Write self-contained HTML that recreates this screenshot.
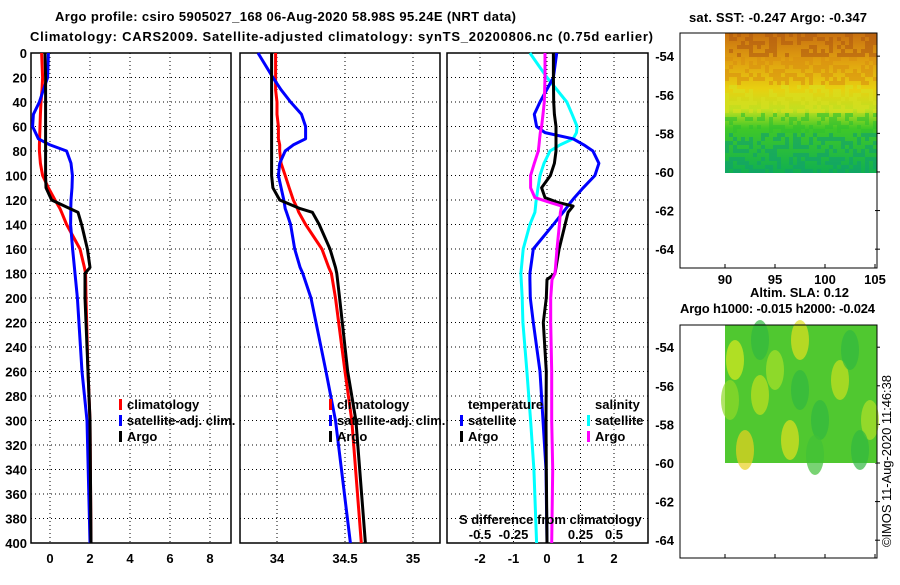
<!DOCTYPE html>
<html><head><meta charset="utf-8"><style>
body{margin:0;background:#fff;width:900px;height:580px;overflow:hidden}
svg text{font-family:"Liberation Sans",sans-serif;font-weight:bold;font-size:13px;fill:#000}
</style></head><body>
<svg id="c" width="900" height="580" xmlns="http://www.w3.org/2000/svg">
<defs>
<linearGradient id="sst" x1="0" y1="0" x2="0" y2="1">
<stop offset="0" stop-color="#c87010"/><stop offset="0.2" stop-color="#e0a010"/><stop offset="0.4" stop-color="#e8d010"/>
<stop offset="0.55" stop-color="#c0e020"/><stop offset="0.68" stop-color="#40c828"/><stop offset="1" stop-color="#10b050"/>
</linearGradient>
</defs>
<text x="55" y="21" textLength="461">Argo profile: csiro 5905027_168 06-Aug-2020 58.98S 95.24E (NRT data)</text>
<text x="30" y="41" textLength="623">Climatology: CARS2009. Satellite-adjusted climatology: synTS_20200806.nc (0.75d earlier)</text>
<g id="plots"></g>
<g>
<text x="689" y="22" textLength="178">sat. SST: -0.247 Argo: -0.347</text>
<rect x="725" y="33" width="152" height="140" fill="url(#sst)"/>
<g id="sstnoise"></g>
<rect x="680" y="33" width="197" height="235" fill="none" stroke="#000"/>
</g>
<g>
<text x="750" y="297">Altim. SLA: 0.12</text>
<text x="680" y="313" textLength="195">Argo h1000: -0.015 h2000: -0.024</text>
<rect x="725" y="325" width="152" height="138" fill="#50c830"/>
<g id="blobs"></g>
<rect x="680" y="325" width="197" height="233" fill="none" stroke="#000"/>
</g>
<text transform="translate(891,547) rotate(-90)" textLength="172" style="font-weight:normal;font-size:13px">©IMOS 11-Aug-2020 11:46:38</text>
</svg>
<script>
// ---- data ----
const depthT = [0,20,30,40,50,60,70,75,80,90,100,110,120,127,130,140,160,175,180,200,260,300,400];
const p1Clim = [-0.42,-0.37,-0.4,-0.45,-0.48,-0.5,-0.52,-0.53,-0.53,-0.48,-0.37,-0.08,0.25,0.5,0.58,0.83,1.5,1.72,1.78,1.8,1.9,2.0,2.05];
const p1Sat  = [-0.08,-0.12,-0.33,-0.53,-0.83,-0.87,-0.58,0,0.83,1.05,1.12,1.1,1.05,1.04,1.04,1.03,1.13,1.22,1.25,1.37,1.6,1.85,2.0];
const p1Argo = [-0.25,-0.22,-0.22,-0.22,-0.22,-0.22,-0.22,-0.22,-0.22,-0.22,-0.22,-0.2,0.08,1.0,1.4,1.58,1.87,2.0,1.75,1.75,1.9,2.0,2.05];
const p2Clim = [33.99,33.99,33.99,34.0,34.0,34.01,34.01,34.02,34.02,34.03,34.06,34.09,34.12,34.15,34.16,34.21,34.33,34.38,34.40,34.43,34.5,34.55,34.62];
const p2Sat  = [33.86,33.97,34.03,34.1,34.18,34.21,34.21,34.12,34.06,34.02,34.01,34.03,34.05,34.06,34.07,34.1,34.13,34.17,34.19,34.25,34.36,34.43,34.54];
const p2Argo = [33.96,33.96,33.96,33.96,33.96,33.96,33.96,33.96,33.96,33.96,33.96,33.97,34.02,34.17,34.26,34.31,34.39,34.43,34.44,34.46,34.52,34.58,34.65];
const depthD = [0,20,40,50,60,65,70,75,80,90,100,110,118,122,125,130,140,160,180,185,200,220,260,300,340,400];
const dTSat  = [0.29,0.19,-0.21,-0.38,-0.31,-0.06,0.78,1.1,1.37,1.55,1.43,1.08,0.82,0.7,0.62,0.48,0.19,-0.41,-0.51,-0.51,-0.5,-0.41,-0.21,-0.12,-0.03,0];
const dTArgo = [0.19,0.19,0.2,0.22,0.27,0.27,0.27,0.27,0.27,0.22,0.1,-0.16,-0.06,0.33,0.78,0.63,0.54,0.36,0.24,0,-0.02,-0.11,-0.02,-0.03,-0.02,0];
const dSSat  = [-0.51,0,0.59,0.75,0.9,0.88,0.78,0.39,0.09,-0.09,-0.21,-0.27,-0.31,-0.33,-0.34,-0.36,-0.51,-0.71,-0.78,-0.77,-0.74,-0.72,-0.6,-0.49,-0.39,-0.31];
const dSArgo = [-0.06,-0.06,-0.08,-0.12,-0.16,-0.2,-0.22,-0.24,-0.26,-0.38,-0.49,-0.49,-0.36,0.09,0.44,0.4,0.37,0.3,0.24,0.15,0.11,0.11,0.14,0.14,0.17,0.14];
const depthTicks = [0,20,40,60,80,100,120,140,160,180,200,220,240,260,280,300,320,340,360,380,400];
const p1Ticks = [0,2,4,6,8];
const p2Ticks = [34,34.5,35];
const p3Ticks = [-2,-1,0,1,2];
const p3STicks = ['-0.5','-0.25','','0.25','0.5'];
// ---- geometry ----
const NS='http://www.w3.org/2000/svg';
const g=document.getElementById('plots');
const yD=d=>53+d*1.225;
function el(t,a,p){const e=document.createElementNS(NS,t);for(const k in a)e.setAttribute(k,a[k]);(p||g).appendChild(e);return e;}
const panels=[
 {name:'temperature-panel',x0:31,x1:231,sx:v=>50+v*20,ticks:p1Ticks,lbl:v=>String(v)},
 {name:'salinity-panel',x0:240,x1:440,sx:v=>277+(v-34)*136,ticks:p2Ticks,lbl:v=>String(v)},
 {name:'difference-panel',x0:447,x1:648,sx:v=>547+v*33.5,ticks:p3Ticks,lbl:v=>String(v)}
];
panels.forEach((p,i)=>{
 const pg=el('g',{});
 
 
 depthTicks.forEach(d=>{
  if(d>0&&d<400){const l=el('line',{x1:p.x0,x2:p.x1,y1:yD(d),y2:yD(d),stroke:'#000','stroke-dasharray':'1,3'},pg);
  
  }
  if(i===0){const t=el('text',{x:27,y:yD(d)+5,'text-anchor':'end'},pg);t.textContent=d;
  
  }
 });
 p.ticks.forEach(v=>{
  const x=p.sx(v);
  const l=el('line',{x1:x,x2:x,y1:53,y2:543,stroke:'#000','stroke-dasharray':'1,3'},pg);
  
  
  const t=el('text',{x:x,y:563,'text-anchor':'middle'},pg);t.textContent=p.lbl(v);
  
  
 });
 const fr=el('rect',{x:p.x0,y:53,width:p.x1-p.x0,height:490,fill:'none',stroke:'#000','stroke-width':1.5},pg);
 
 
});
function line(depths,vals,sx,col,name){
 const pts=depths.map((d,i)=>sx(vals[i]).toFixed(1)+','+yD(d).toFixed(1)).join(' ');
 const l=el('polyline',{points:pts,fill:'none',stroke:col,'stroke-width':3,'stroke-linejoin':'round'});
 
 
}
const P=panels;
line(depthT,p1Clim,P[0].sx,'#f00','temp-climatology-line');
line(depthT,p1Sat,P[0].sx,'#00f','temp-satellite-line');
line(depthT,p1Argo,P[0].sx,'#000','temp-argo-line');
line(depthT,p2Clim,P[1].sx,'#f00','sal-climatology-line');
line(depthT,p2Sat,P[1].sx,'#00f','sal-satellite-line');
line(depthT,p2Argo,P[1].sx,'#000','sal-argo-line');
line(depthD,dSSat,P[2].sx,'#0ff','sdiff-satellite-line');
line(depthD,dTSat,P[2].sx,'#00f','tdiff-satellite-line');
line(depthD,dTArgo,P[2].sx,'#000','tdiff-argo-line');
line(depthD,dSArgo,P[2].sx,'#f0f','sdiff-argo-line');
// legends
function leg(x,y,col,txt,name){
 if(col){const r=el('rect',{x:x,y:y-10,width:3,height:11,fill:col});
 
 }
 const t=el('text',{x:x+(col?8:0),y:y});t.textContent=txt;
 
 
}
[[119,'p1'],[329,'p2']].forEach(([x,n])=>{
 leg(x,409,'#f00','climatology',n+'-legend-climatology');
 leg(x,425,'#00f','satellite-adj. clim.',n+'-legend-satellite');
 leg(x,441,'#000','Argo',n+'-legend-argo');
});
leg(468,409,null,'temperature','legend-temperature-title');
leg(460,425,'#00f','satellite','legend-temp-satellite');
leg(460,441,'#000','Argo','legend-temp-argo');
leg(595,409,null,'salinity','legend-salinity-title');
leg(587,425,'#0ff','satellite','legend-sal-satellite');
leg(587,441,'#f0f','Argo','legend-sal-argo');
leg(459,524,null,'S difference from climatology','s-axis-title');
p3Ticks.forEach((v,i)=>{if(!p3STicks[i])return;const t=el('text',{x:P[2].sx(v),y:539,'text-anchor':'middle'});t.textContent=p3STicks[i];
 
 });
// map axes
function mapAxes(lat0,yTop){
 for(let k=0;k<6;k++){const la=-54-2*k;const y=yTop+(la-lat0)*-19.3;
  const t=el('text',{x:674,y:y+5,'text-anchor':'end'});t.textContent=la;
  
  
  el('line',{x1:875,x2:880,y1:y,y2:y,stroke:'#000'});}
}
mapAxes(-52.8,33);
mapAxes(-52.85,325);
[90,95,100,105].forEach(lo=>{const x=725+(lo-90)*10;
 const t=el('text',{x:x,y:284,'text-anchor':'middle'});t.textContent=lo;
 
 
 el('line',{x1:x,x2:x,y1:268,y2:264,stroke:'#000'});
 el('line',{x1:x,x2:x,y1:558,y2:554,stroke:'#000'});});
// decorative map texture (deterministic hash)
const h=(i,j)=>{const s=Math.sin(i*12.9898+j*78.233)*43758.5453;return s-Math.floor(s);};
const sn=document.getElementById('sstnoise');
for(let i=0;i<38;i++)for(let j=0;j<35;j++){
 const r=h(i,j);if(r<0.55)continue;
 const yy=33+j*4, f=j/35;
 let c = f<0.15?'#b05a10':f<0.35?'#d89010':f<0.55?'#d8e020':f<0.7?'#30c030':'#10a070';
 el('rect',{x:725+i*4,y:yy,width:4,height:4,fill:c,opacity:0.6},sn);
}
const bl=document.getElementById('blobs');
[[735,360,'#d8e820'],[760,395,'#c0e020'],[800,340,'#e0e020'],[840,380,'#c8e020'],[870,420,'#b0e028'],[790,440,'#e0e020'],[745,450,'#e8d020'],[820,420,'#30b840'],[760,340,'#30b840'],[850,350,'#30b840'],[800,390,'#30b840'],[775,370,'#a8e028'],[860,450,'#30b840'],[730,400,'#90d828'],[815,455,'#40c038']].forEach(([x,y,c])=>{
 el('ellipse',{cx:x,cy:y,rx:9,ry:20,fill:c,opacity:0.7},bl);
});
</script>
</body></html>
